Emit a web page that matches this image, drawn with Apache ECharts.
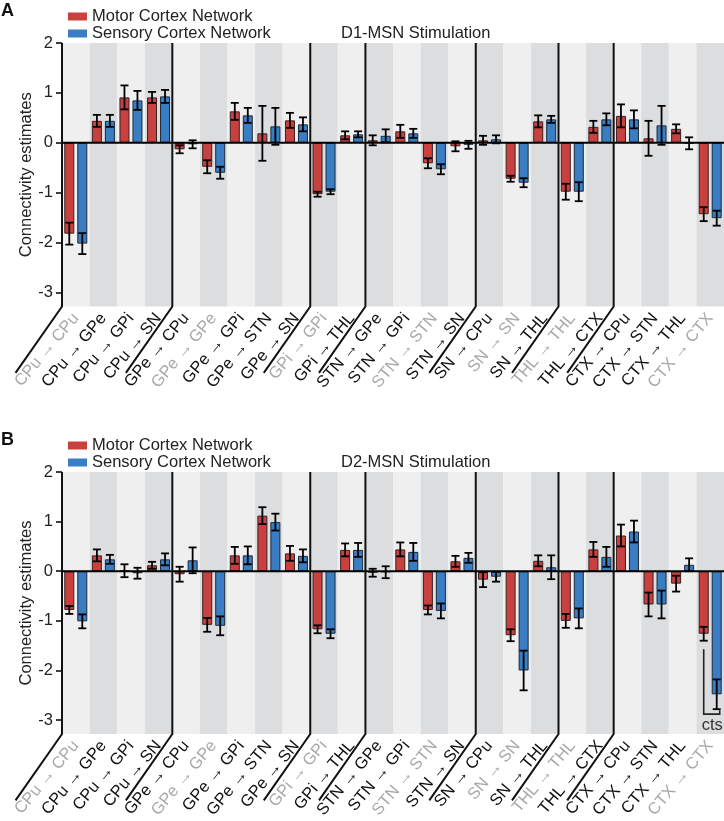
<!DOCTYPE html>
<html>
<head>
<meta charset="utf-8">
<script src="https://cdn.jsdelivr.net/npm/echarts@6/dist/echarts.min.js"></script>
<style>
html,body{margin:0;padding:0;background:#fff;}
#c{width:724px;height:821px;}
</style>
</head>
<body>
<div id="c"></div>
<script>
// ---------- data ----------
const categories = ['CPu → CPu','CPu → GPe','CPu → GPi','CPu → SN','GPe → CPu','GPe → GPe','GPe → GPi','GPe → STN','GPe → SN','GPi → GPi','GPi → THL','STN → GPe','STN → GPi','STN → STN','STN → SN','SN → CPu','SN → SN','SN → THL','THL → THL','THL → CTX','CTX → CPu','CTX → STN','CTX → THL','CTX → CTX'];
const groupStarts = [0, 4, 9, 11, 15, 18, 20];
const yTicks = [-3, -2, -1, 0, 1, 2];
const seriesNames = ['Motor Cortex Network', 'Sensory Cortex Network'];
const panelTitles = ['D1-MSN Stimulation', 'D2-MSN Stimulation'];
const panelLetters = ['A', 'B'];

const motorD1      = [-1.82, 0.44, 0.91, 0.91, -0.13, -0.48, 0.63, 0.19, 0.45, -1.03, 0.15, 0.05, 0.23, -0.41, -0.07, 0.05, -0.72, 0.43, -0.98, 0.32, 0.54, 0.09, 0.28, -1.43];
const motorD1Err   = [0.22, 0.12, 0.24, 0.11, 0.08, 0.13, 0.17, 0.55, 0.15, 0.05, 0.08, 0.10, 0.13, 0.10, 0.10, 0.09, 0.06, 0.12, 0.16, 0.12, 0.23, 0.35, 0.09, 0.14];
const sensoryD1    = [-2.02, 0.44, 0.85, 0.93, -0.03, -0.60, 0.55, 0.33, 0.37, -0.98, 0.17, 0.14, 0.19, -0.53, -0.04, 0.07, -0.80, 0.47, -0.98, 0.47, 0.47, 0.35, -0.01, -1.51];
const sensoryD1Err = [0.21, 0.12, 0.19, 0.13, 0.08, 0.12, 0.15, 0.37, 0.14, 0.05, 0.06, 0.13, 0.09, 0.10, 0.08, 0.08, 0.09, 0.07, 0.19, 0.12, 0.18, 0.39, 0.12, 0.15];

const motorD2      = [-0.78, 0.32, 0.01, 0.12, -0.06, -1.08, 0.32, 1.12, 0.36, -1.17, 0.43, -0.03, 0.44, -0.78, 0.20, -0.17, -1.29, 0.21, -1.00, 0.44, 0.72, -0.67, -0.25, -1.26];
const motorD2Err   = [0.08, 0.12, 0.13, 0.07, 0.15, 0.14, 0.17, 0.17, 0.15, 0.08, 0.13, 0.08, 0.14, 0.09, 0.11, 0.15, 0.12, 0.11, 0.14, 0.15, 0.22, 0.24, 0.16, 0.14];
const sensoryD2    = [-1.01, 0.24, -0.04, 0.24, 0.22, -1.10, 0.32, 0.99, 0.31, -1.26, 0.43, -0.02, 0.39, -0.80, 0.27, -0.11, -2.00, 0.08, -0.95, 0.29, 0.80, -0.67, 0.13, -2.48];
const sensoryD2Err = [0.14, 0.09, 0.11, 0.12, 0.26, 0.19, 0.18, 0.17, 0.13, 0.09, 0.14, 0.12, 0.18, 0.15, 0.10, 0.10, 0.40, 0.24, 0.20, 0.20, 0.22, 0.28, 0.13, 0.30];

// annotation in panel B ("cts" bracket under CTX → CTX)
const ctsLabel = 'cts';
const ctsBracket = [-1.57, -2.88, -2.80]; // top, bottom, right tick top (data units)
const ctsTextValue = -3.1;

// ---------- styling ----------
const FONT = 'Liberation Sans, Arial, Helvetica, sans-serif';
const RED = '#c8413f', BLUE = '#3b7dc3';
const Y_MIN = -3.28, Y_MAX = 2;
const BAR_W = 10, HALF_OFF = 6.5, CAP = 4;
const LINE_ROT = 55, LABEL_ROT = 50, DIAG_LEN = 81;
const gridTops = [43, 472];
const GRID_H = 263.5;
const panelOffset = [0, 429];

const chart = echarts.init(document.getElementById('c'), null, {renderer: 'canvas'});

function isSelf(name) {
  const p = name.split(' → ');
  return p[0] === p[1];
}

const grids = [], xAxes = [], yAxes = [], series = [], titles = [], legends = [];
const panels = [
  {motor: motorD1, motorErr: motorD1Err, sens: sensoryD1, sensErr: sensoryD1Err},
  {motor: motorD2, motorErr: motorD2Err, sens: sensoryD2, sensErr: sensoryD2Err}
];

panels.forEach((p, k) => {
  grids.push({left: 62, width: 662, top: gridTops[k], height: GRID_H, containLabel: false});
  xAxes.push({
    type: 'category', gridIndex: k, data: categories,
    axisLine: {show: false}, axisTick: {show: false},
    splitLine: {show: false},
    splitArea: {show: true, interval: 0, areaStyle: {color: ['#efefef', '#dcdddf']}},
    axisLabel: {
      interval: 0, rotate: LABEL_ROT, margin: 9,
      fontSize: 16.5, fontFamily: FONT,
      color: (v) => isSelf(v) ? '#a9a9a9' : '#111'
    }
  });
  yAxes.push({
    type: 'value', gridIndex: k, min: Y_MIN, max: Y_MAX,
    axisLine: {show: false},
    axisTick: {show: true, length: 6, customValues: yTicks, lineStyle: {color: '#000', width: 1.5}},
    axisLabel: {customValues: yTicks, margin: 9, fontSize: 16.5, fontFamily: FONT, color: '#222'},
    splitLine: {show: false},
    name: 'Connectivity estimates', nameLocation: 'middle', nameGap: 27, nameMoveOverlap: false,
    nameTextStyle: {fontSize: 16.5, fontFamily: FONT, color: '#222'}
  });
  titles.push({text: panelLetters[k], left: 1, top: 2 + panelOffset[k], padding: 0,
    textStyle: {fontSize: 18, fontWeight: 'bold', fontFamily: FONT, color: '#111'}});
  titles.push({text: panelTitles[k], left: 341, top: 25 + panelOffset[k], padding: 0,
    textStyle: {fontSize: 16.5, fontWeight: 'normal', fontFamily: FONT, color: '#222'}});
  legends.push({
    orient: 'vertical', left: 68, top: 8 + panelOffset[k], padding: 0, itemGap: 0,
    itemWidth: 19, itemHeight: 8, icon: 'rect',
    itemStyle: {borderWidth: 0},
    data: seriesNames,
    textStyle: {fontSize: 16.5, fontFamily: FONT, color: '#222', lineHeight: 17}
  });

  series.push({
    name: seriesNames[0], type: 'bar', xAxisIndex: k, yAxisIndex: k,
    data: p.motor, barWidth: BAR_W, barGap: '30%',
    itemStyle: {color: RED, borderColor: '#3a2020', borderWidth: 1},
    z: 3
  });
  series.push({
    name: seriesNames[1], type: 'bar', xAxisIndex: k, yAxisIndex: k,
    data: p.sens, barWidth: BAR_W, barGap: '30%',
    itemStyle: {color: BLUE, borderColor: '#1a2a3a', borderWidth: 1},
    z: 3
  });

  // error bars
  const errData = [];
  categories.forEach((c, i) => {
    errData.push([i, p.motor[i] - p.motorErr[i], p.motor[i] + p.motorErr[i], -1]);
    errData.push([i, p.sens[i] - p.sensErr[i], p.sens[i] + p.sensErr[i], 1]);
  });
  series.push({
    type: 'custom', xAxisIndex: k, yAxisIndex: k, z: 6, silent: true,
    encode: {x: 0, y: [1, 2]},
    data: errData,
    renderItem: (params, api) => {
      const i = api.value(0), lo = api.value(1), hi = api.value(2), side = api.value(3);
      const a = api.coord([i, lo]), b = api.coord([i, hi]);
      const x = a[0] + side * HALF_OFF;
      const st = {stroke: '#000', lineWidth: 1.8};
      return {type: 'group', children: [
        {type: 'line', shape: {x1: x, y1: a[1], x2: x, y2: b[1]}, style: st},
        {type: 'line', shape: {x1: x - CAP, y1: a[1], x2: x + CAP, y2: a[1]}, style: st},
        {type: 'line', shape: {x1: x - CAP, y1: b[1], x2: x + CAP, y2: b[1]}, style: st}
      ]};
    }
  });

  // group separators + zero line
  series.push({
    type: 'custom', xAxisIndex: k, yAxisIndex: k, z: 5, silent: true, clip: false,
    encode: {x: 0, y: 1},
    data: groupStarts.map(s => [s, 0]),
    renderItem: (params, api) => {
      const cs = params.coordSys;
      const s = api.value(0);
      const band = api.size([1, 0])[0];
      const x = api.coord([s, 0])[0] - band / 2;
      const top = cs.y, bot = cs.y + cs.height;
      const rad = LINE_ROT * Math.PI / 180;
      const children = [{
        type: 'polyline',
        shape: {points: [[x, top], [x, bot], [x - DIAG_LEN * Math.cos(rad), bot + DIAG_LEN * Math.sin(rad)]]},
        style: {stroke: '#111', lineWidth: 2, fill: null}
      }];
      if (s === 0) {
        const y0 = api.coord([0, 0])[1];
        children.push({type: 'line', shape: {x1: cs.x, y1: y0, x2: cs.x + cs.width, y2: y0},
          style: {stroke: '#000', lineWidth: 2}});
      }
      return {type: 'group', children};
    }
  });
});

// "cts" bracket annotation in panel B
series.push({
  type: 'custom', xAxisIndex: 1, yAxisIndex: 1, z: 7, silent: true, clip: false,
  encode: {x: 0, y: 1},
  data: [[categories.length - 1, ctsBracket[0], ctsBracket[1], ctsBracket[2], ctsTextValue]],
  renderItem: (params, api) => {
    const i = api.value(0);
    const t = api.coord([i, api.value(1)]);
    const b = api.coord([i, api.value(2)]);
    const tk = api.coord([i, api.value(3)]);
    const tx = api.coord([i, api.value(4)]);
    const xl = t[0] - HALF_OFF, xr = t[0] + HALF_OFF + 3;
    const st = {stroke: '#222', lineWidth: 1.6, fill: null};
    return {type: 'group', children: [
      {type: 'polyline', shape: {points: [[xl, t[1]], [xl, b[1]], [xr, b[1]], [xr, tk[1]]]}, style: st},
      {type: 'text', style: {text: ctsLabel, x: t[0] + 2, y: tx[1], align: 'center', verticalAlign: 'middle',
        fontSize: 16.5, fontFamily: FONT, fill: '#333'}}
    ]};
  }
});

chart.setOption({
  animation: false,
  backgroundColor: '#fff',
  title: titles,
  legend: legends,
  grid: grids,
  xAxis: xAxes,
  yAxis: yAxes,
  series: series
});
</script>
</body>
</html>
